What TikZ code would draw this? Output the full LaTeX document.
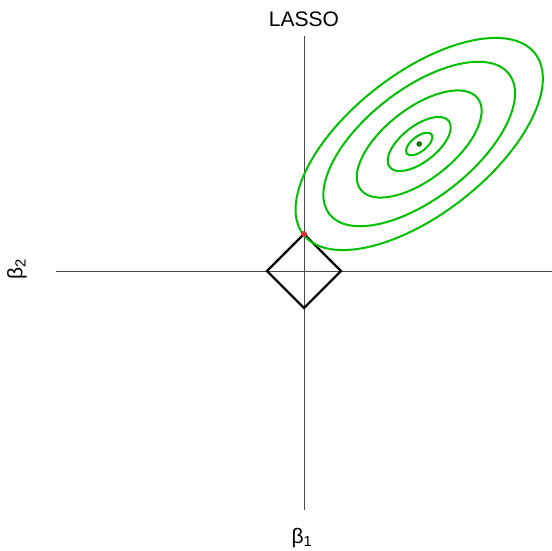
\documentclass[tikz,border=0pt]{standalone}
\usepackage{fontspec}
\setmainfont{Liberation Sans}
\usepackage{xcolor}
\usetikzlibrary{calc}
\definecolor{AxisGray}{HTML}{4A4A4A}
\definecolor{ContourGreen}{HTML}{00C000}
\definecolor{OptGreen}{HTML}{0A7A0A}
\definecolor{TouchRed}{HTML}{D8302C}

\begin{document}
\begin{tikzpicture}[
  x=1pt,y=1pt,
  axis/.style={draw=AxisGray,line width=0.9pt},
  ball/.style={draw=black,line width=2.2pt,line join=miter},
  contour/.style={draw=ContourGreen,line width=2pt},
  lbl/.style={font=\fontsize{21}{25}\selectfont,inner sep=0pt}
]
\useasboundingbox (-304,-280) rectangle (248,271);
\coordinate (o) at (0,0);
\coordinate (ctr) at (115.2,127);

% axes
\coordinate (xl) at (-248,0);
\coordinate (xr) at (248,0);
\coordinate (yb) at (0,-239);
\coordinate (yt) at (0,235);
\draw[axis] (xl) -- (xr);
\draw[axis] (yb) -- (yt);

% l1 ball
\coordinate (dr) at (37,0);
\coordinate (dt) at (0,37);
\coordinate (dl) at (-37,0);
\coordinate (db) at (0,-37);
\draw[ball] (dr) -- (dt) -- (dl) -- (db) -- cycle;

% loss contours
\foreach \s in {1,0.775,0.505,0.255,0.107}
  \draw[contour,rotate around={38:(ctr)}] (ctr) ellipse [x radius={147pt*\s}, y radius={70.2pt*\s}];
\fill[OptGreen] (ctr) circle (2.8pt);
\fill[TouchRed] (dt) circle (3pt);

% labels
\node[lbl] (title) at (0,252) {LASSO};
\node[lbl] (b1) at (-2,-267) {β\textsubscript{1}};
\node[lbl,rotate=90] (b2) at (-287,2) {β\textsubscript{2}};
\end{tikzpicture}
\end{document}
